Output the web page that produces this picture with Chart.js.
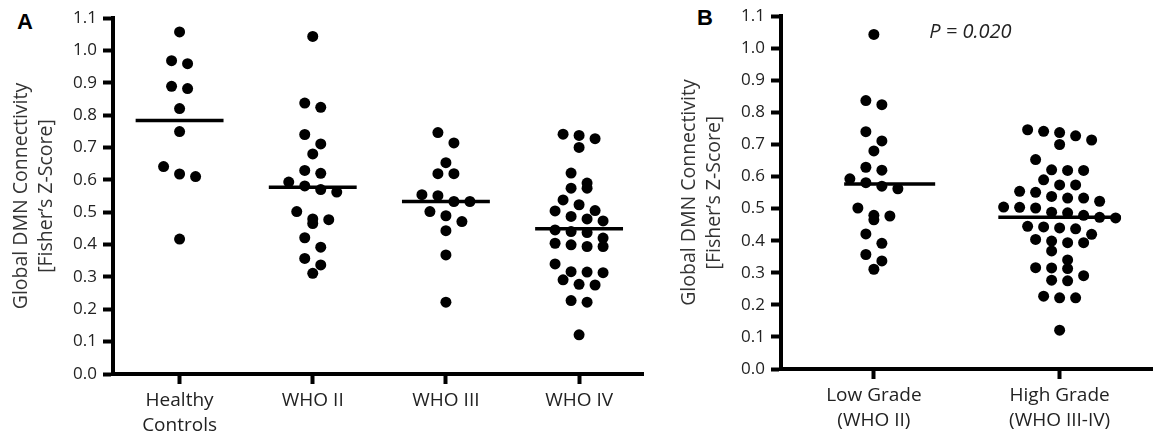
<!DOCTYPE html>
<html>
<head>
<meta charset="utf-8">
<script src="https://cdn.jsdelivr.net/npm/chart.js@4.4.0/dist/chart.umd.min.js"></script>
<style>
body{margin:0;background:#fff;width:1158px;height:443px;overflow:hidden}
.panel{position:absolute;top:0;height:443px}
.tag{position:absolute;font:bold 22px "Liberation Sans",Arial,sans-serif;color:#000}
</style>
</head>
<body>
<div class="tag" style="left:17px;top:9px">A</div>
<div class="tag" style="left:697px;top:5px">B</div>
<div class="panel" style="left:0;width:660px"><canvas id="chartA"></canvas></div>
<div class="panel" style="left:668px;width:490px"><canvas id="chartB"></canvas></div>
<script>
// categories
var labelsA = [['Healthy', 'Controls'], ['WHO II'], ['WHO III'], ['WHO IV']];
var labelsB = [['Low Grade', '(WHO II)'], ['High Grade', '(WHO III-IV)']];

// values
var healthy = [1.057, 0.968, 0.959, 0.889, 0.882, 0.820, 0.749, 0.641, 0.618, 0.610, 0.417];
var who2 = [1.043, 0.837, 0.824, 0.740, 0.711, 0.680, 0.629, 0.620, 0.593, 0.581, 0.570,
            0.562, 0.502, 0.479, 0.477, 0.465, 0.421, 0.392, 0.357, 0.337, 0.311];
var who3 = [0.746, 0.714, 0.653, 0.619, 0.619, 0.554, 0.551, 0.533, 0.533, 0.502, 0.489,
            0.471, 0.443, 0.368, 0.222];
var who4 = [0.741, 0.737, 0.727, 0.700, 0.621, 0.590, 0.574, 0.574, 0.538, 0.523, 0.505,
            0.504, 0.487, 0.479, 0.473, 0.445, 0.440, 0.437, 0.420, 0.404, 0.399, 0.394,
            0.394, 0.340, 0.316, 0.315, 0.313, 0.291, 0.277, 0.275, 0.227, 0.222, 0.121];

// panel B pools the same patients
var lowGrade = who2;
var highGrade = who3.concat(who4);

// group means (horizontal bars)
var meansA = [0.783, 0.577, 0.533, 0.449];
var meansB = [0.577, 0.473];

var yTitle = ['Global DMN Connectivity', '[Fisher\u2019s Z-Score]'];
var pText = 'P = 0.020';

var FONT = '"Open Sans", "Noto Sans", sans-serif';

// GraphPad-like scatter: values close in height share a centred row
function swarm(values, center, pxX, pxY) {
    var sorted = values.slice().sort(function(a, b) { return b - a; });
    var pts = [], row = [];
    function flush() {
        for (var k = 0; k < row.length; k++) {
            var off = (k - (row.length - 1) / 2) * 16;
            pts.push({x: center + off / pxX, y: row[k]});
        }
        row = [];
    }
    for (var i = 0; i < sorted.length; i++) {
        if (row.length && (row[0] - sorted[i]) * pxY > 11) flush();
        row.push(sorted[i]);
    }
    flush();
    return pts;
}

var pLabel = {
    id: 'pLabel',
    afterDraw: function(chart, args, opts) {
        if (!opts.text) return;
        var ctx = chart.ctx;
        ctx.save();
        ctx.font = 'italic 20px ' + FONT;
        ctx.fillStyle = '#222';
        ctx.textAlign = 'center';
        ctx.textBaseline = 'middle';
        ctx.fillText(opts.text, chart.scales.x.getPixelForValue(0.52), chart.scales.y.getPixelForValue(1.05));
        ctx.restore();
    }
};

function makeChart(id, labels, groups, means, lineFrom, lineTo, xMax, padTop, padRight, xHeight, ptext) {
    var datasets = [];
    groups.forEach(function(g, i) {
        datasets.push({type: 'scatter', data: g.map(function(v) { return {x: i, y: v}; }),
            pointRadius: 5.5, pointBackgroundColor: '#000', pointBorderWidth: 0, clip: false});
    });
    means.forEach(function(m, i) {
        datasets.push({type: 'line', data: [{x: i + lineFrom[i], y: m}, {x: i + lineTo[i], y: m}],
            borderColor: '#000', borderWidth: 3.5, pointRadius: 0, fill: false, clip: false});
    });

    var chart = new Chart(document.getElementById(id), {
        type: 'scatter',
        data: {datasets: datasets},
        options: {
            responsive: true,
            maintainAspectRatio: false,
            animation: false,
            events: [],
            layout: {padding: {top: padTop, right: padRight, left: 0, bottom: 0}},
            plugins: {legend: {display: false}, tooltip: {enabled: false}, pLabel: {text: ptext}},
            scales: {
                x: {
                    type: 'linear', min: -0.5, max: xMax,
                    afterBuildTicks: function(s) { s.ticks = labels.map(function(l, i) { return {value: i}; }); },
                    afterFit: function(s) { s.height = xHeight; },
                    grid: {drawOnChartArea: false, tickLength: 10, tickWidth: 4, tickColor: '#000'},
                    border: {color: '#000', width: 4},
                    ticks: {
                        autoSkip: false, maxRotation: 0, padding: 5, color: '#222',
                        font: {family: FONT, size: 19, lineHeight: 1.27},
                        callback: function(v) { return labels[Math.round(v)]; }
                    }
                },
                y: {
                    min: 0, max: 1.1,
                    afterFit: function(s) { s.width = 113; },
                    grid: {drawOnChartArea: false, tickLength: 10, tickWidth: 4, tickColor: '#000'},
                    border: {color: '#000', width: 4},
                    ticks: {
                        stepSize: 0.1, padding: 6, color: '#222',
                        font: {family: FONT, size: 17},
                        callback: function(v) { return v.toFixed(1); }
                    },
                    title: {
                        display: true, text: yTitle, color: '#333',
                        font: {family: FONT, size: 19.5, lineHeight: 1.33},
                        padding: {top: 8, bottom: 0}
                    }
                }
            }
        },
        plugins: [pLabel]
    });

    var xs = chart.scales.x, ys = chart.scales.y;
    var pxX = xs.getPixelForValue(1) - xs.getPixelForValue(0);
    var pxY = ys.getPixelForValue(0) - ys.getPixelForValue(1);
    groups.forEach(function(g, i) {
        chart.data.datasets[i].data = swarm(g, i, pxX, pxY);
    });
    chart.update('none');
    return chart;
}

makeChart('chartA', labelsA, [healthy, who2, who3, who4], meansA,
    [-0.33, -0.33, -0.33, -0.33], [0.33, 0.33, 0.33, 0.33], 3.48, 18, 17, 69, null);
makeChart('chartB', labelsB, [lowGrade, highGrade], meansB,
    [-0.16, -0.33], [0.33, 0.33], 1.5, 14, 0, 74, pText);
</script>
</body>
</html>
